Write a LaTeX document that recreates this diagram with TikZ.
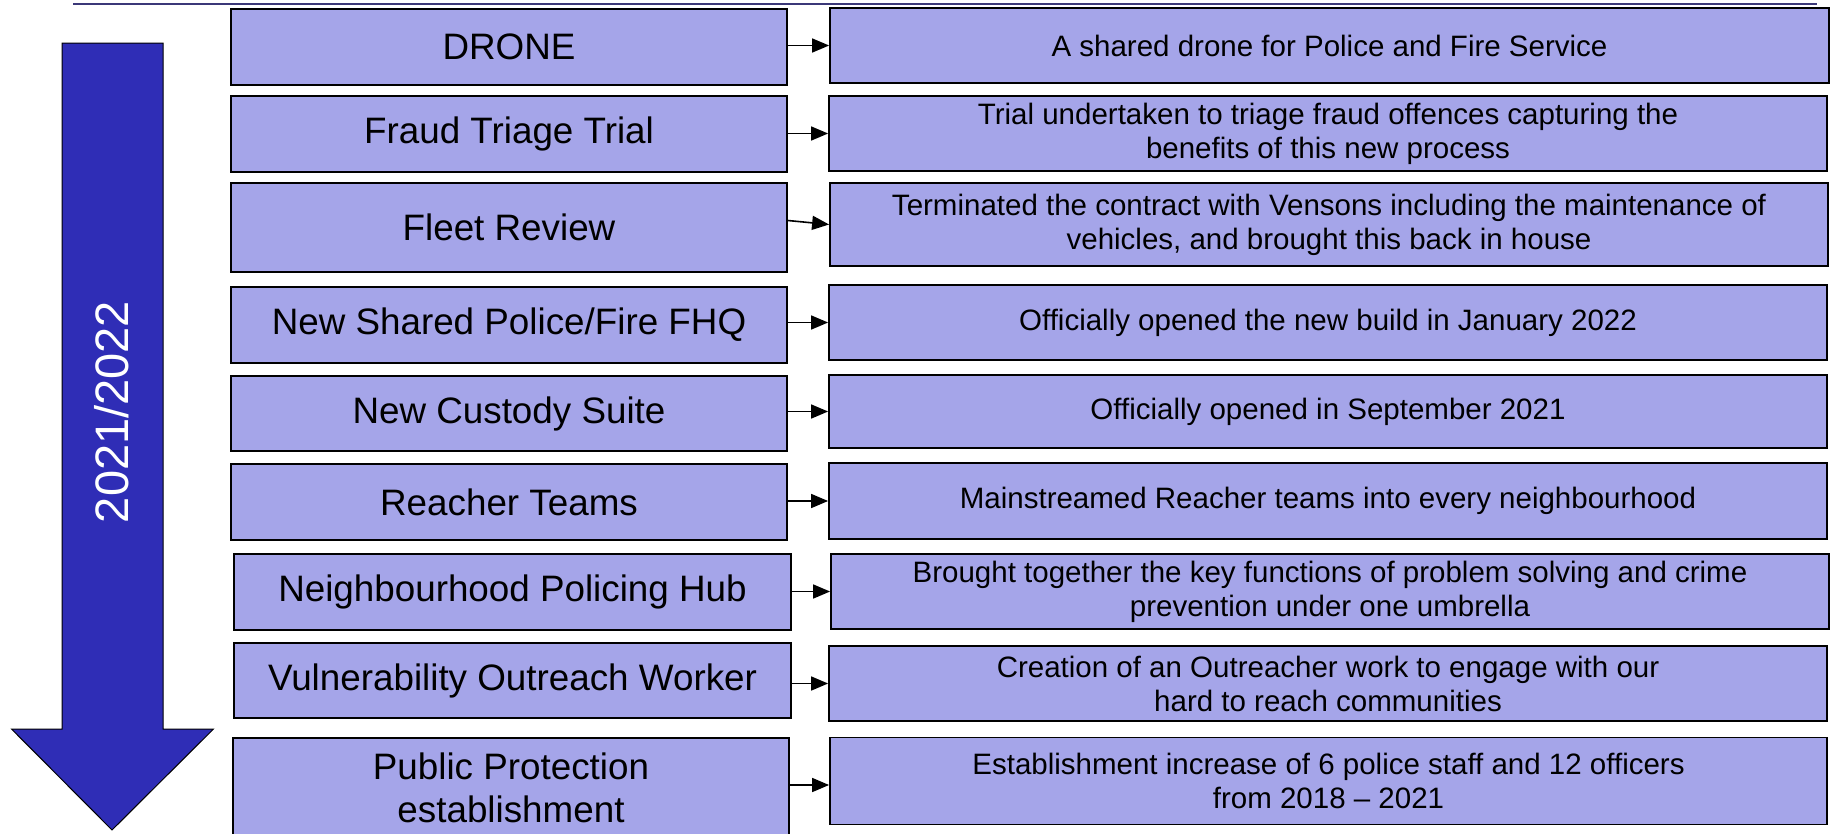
\documentclass[tikz,border=0pt]{standalone}
\usepackage{fontspec}
\setmainfont{Liberation Sans}
\usetikzlibrary{arrows.meta,calc}
\definecolor{boxfill}{HTML}{A5A5E9}
\definecolor{arrowblue}{HTML}{2F2DB6}
\definecolor{rulecol}{HTML}{3B3878}
\tikzset{
  lbox/.style={draw=black, line width=1.8pt, fill=boxfill, inner sep=0pt, align=center,
    font=\fontsize{36.8}{43}\selectfont},
  rbox/.style={draw=black, line width=1.8pt, fill=boxfill, inner sep=0pt, align=center,
    font=\fontsize{29.5}{34}\selectfont},
  conn/.style={draw=black, line width=1.6pt, -{Triangle[length=17pt,width=14pt]}},
}
\begin{document}
\begin{tikzpicture}[x=1pt,y=-1pt]
\useasboundingbox (0,0) rectangle (1835,833);
% top rule
\draw[rulecol, line width=2pt] (73,4.3) -- (1817,4.3);
% timeline arrow
\draw[fill=arrowblue, draw=black, line width=1pt]
  (62,43) -- (163,43) -- (163,729) -- (213.5,729) -- (112,830) -- (11.5,729) -- (62,729) -- cycle;
\node[rotate=90, text=white, font=\fontsize{47}{50}\selectfont] (year) at (112,412) {2021/2022};
% left boxes
\node[lbox, minimum width=556pt, minimum height=76pt] (L1) at (509,47) {DRONE};
\node[lbox, minimum width=556pt, minimum height=76pt] (L2) at (509,134) {Fraud Triage Trial};
\node[lbox, minimum width=556pt, minimum height=89pt] (L3) at (509,227.5) {Fleet Review};
\node[lbox, minimum width=556pt, minimum height=76pt] (L4) at (509,325) {New Shared Police/Fire FHQ};
\node[lbox, minimum width=556pt, minimum height=75pt] (L5) at (509,413.5) {New Custody Suite};
\node[lbox, minimum width=556pt, minimum height=76pt] (L6) at (509,502) {Reacher Teams};
\node[lbox, minimum width=557pt, minimum height=76pt] (L7) at (512.5,592) {Neighbourhood Policing Hub};
\node[lbox, minimum width=557pt, minimum height=75pt] (L8) at (512.5,680.5) {Vulnerability Outreach Worker};
\node[lbox, minimum width=556pt, minimum height=100pt] (L9) at (511,788) {Public Protection\\establishment};
% right boxes
\node[rbox, minimum width=999pt, minimum height=75pt] (R1) at (1329.5,45.5) {A shared drone for Police and Fire Service};
\node[rbox, minimum width=998pt, minimum height=75pt] (R2) at (1328,133.5) {Trial undertaken to triage fraud offences capturing the\\benefits of this new process};
\node[rbox, minimum width=998pt, minimum height=83pt] (R3) at (1329,224.5) {Terminated the contract with Vensons including the maintenance of\\vehicles, and brought this back in house};
\node[rbox, minimum width=998pt, minimum height=75pt] (R4) at (1328,322.5) {Officially opened the new build in January 2022};
\node[rbox, minimum width=998pt, minimum height=73pt] (R5) at (1328,411.5) {Officially opened in September 2021};
\node[rbox, minimum width=998pt, minimum height=76pt] (R6) at (1328,501) {Mainstreamed Reacher teams into every neighbourhood};
\node[rbox, minimum width=998pt, minimum height=75pt] (R7) at (1330,591.5) {Brought together the key functions of problem solving and crime\\prevention under one umbrella};
\node[rbox, minimum width=998pt, minimum height=75pt] (R8) at (1328,683.5) {Creation of an Outreacher work to engage with our\\hard to reach communities};
\node[rbox, minimum width=997pt, minimum height=87pt] (R9) at (1328.5,781) {Establishment increase of 6 police staff and 12 officers\\from 2018 -- 2021};
% connectors
\coordinate (c3) at ($(L3.east)+(0,-7)$);
\coordinate (c9) at ($(L9.east)+(0,-3)$);
\draw[conn] (L1.east |- R1.west) -- (R1.west);
\draw[conn] (L2.east |- R2.west) -- (R2.west);
\draw[conn] (c3) -- (R3.west);
\draw[conn] (L4.east |- R4.west) -- (R4.west);
\draw[conn] (L5.east |- R5.west) -- (R5.west);
\draw[conn] (L6.east |- R6.west) -- (R6.west);
\draw[conn] (L7.east |- R7.west) -- (R7.west);
\draw[conn] (L8.east |- R8.west) -- (R8.west);
\draw[conn] (c9) -- (c9 -| R9.west);
\end{tikzpicture}
\end{document}
